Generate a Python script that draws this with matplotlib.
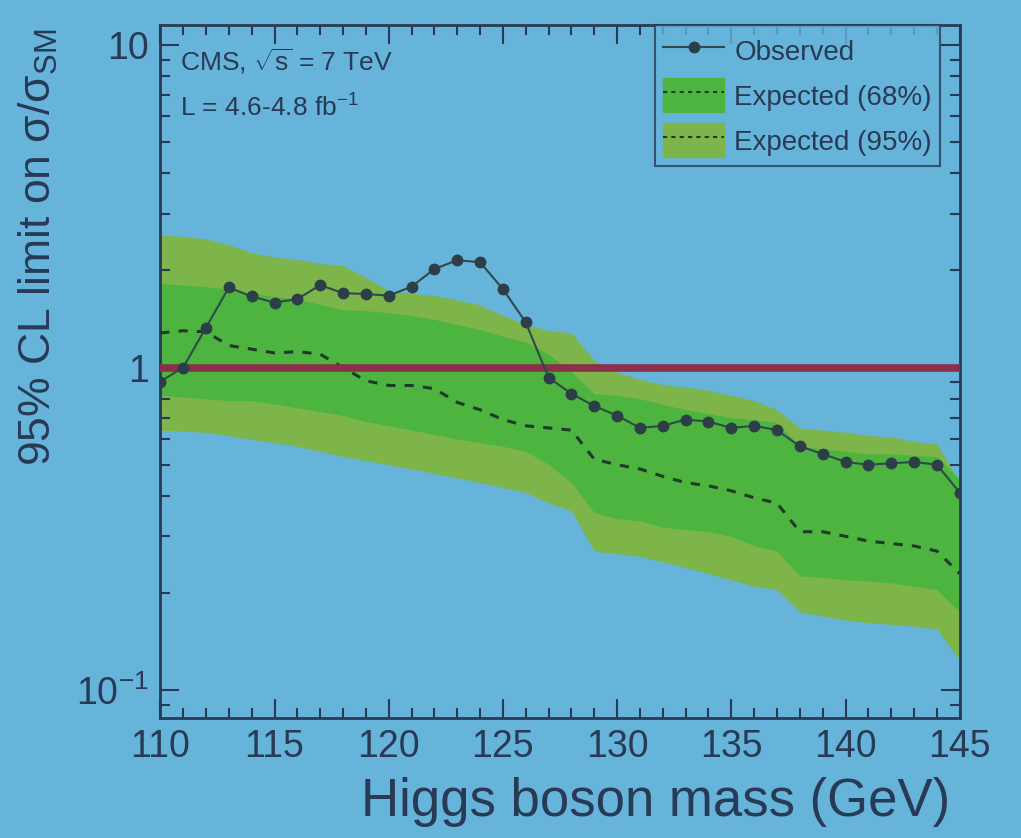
import matplotlib
matplotlib.use("Agg")
import matplotlib.pyplot as plt
from matplotlib.patches import Patch
from matplotlib.lines import Line2D
from matplotlib.ticker import FixedLocator, MultipleLocator, LogLocator, NullFormatter, FixedFormatter
import numpy as np

plt.rcParams['font.family'] = ['Liberation Sans', 'DejaVu Sans']
plt.rcParams['mathtext.fontset'] = 'custom'
plt.rcParams['mathtext.rm'] = 'Liberation Sans'
plt.rcParams['mathtext.it'] = 'Liberation Sans:italic'

mass = list(range(110, 146))
observed = [0.905, 1.00, 1.33, 1.77, 1.66, 1.59, 1.63, 1.80, 1.70, 1.69,
            1.67, 1.78, 2.02, 2.15, 2.12, 1.75, 1.38, 0.93, 0.83, 0.76,
            0.71, 0.65, 0.66, 0.69, 0.68, 0.65, 0.66, 0.64, 0.57, 0.54,
            0.51, 0.50, 0.505, 0.51, 0.50, 0.41]
expected = [1.28, 1.30, 1.29, 1.17, 1.14, 1.11, 1.12, 1.10, 1.00, 0.91,
            0.88, 0.88, 0.86, 0.78, 0.74, 0.69, 0.66, 0.65, 0.64, 0.52,
            0.50, 0.485, 0.46, 0.44, 0.43, 0.415, 0.395, 0.38, 0.31, 0.31,
            0.30, 0.29, 0.285, 0.28, 0.27, 0.23]
up68 = [1.82, 1.80, 1.78, 1.75, 1.70, 1.66, 1.63, 1.57, 1.51, 1.50,
        1.48, 1.45, 1.41, 1.36, 1.31, 1.25, 1.20, 1.10, 0.97, 0.83,
        0.82, 0.80, 0.77, 0.74, 0.72, 0.70, 0.69, 0.675, 0.57, 0.56,
        0.55, 0.54, 0.54, 0.535, 0.53, 0.45]
lo68 = [0.82, 0.81, 0.80, 0.79, 0.79, 0.77, 0.75, 0.73, 0.71, 0.68,
        0.66, 0.64, 0.62, 0.60, 0.585, 0.57, 0.55, 0.50, 0.44, 0.355,
        0.34, 0.335, 0.32, 0.315, 0.31, 0.30, 0.28, 0.27, 0.226, 0.224,
        0.22, 0.218, 0.215, 0.21, 0.205, 0.175]
up95 = [2.57, 2.55, 2.50, 2.40, 2.27, 2.20, 2.16, 2.10, 2.07, 1.90,
        1.73, 1.70, 1.67, 1.62, 1.56, 1.45, 1.36, 1.30, 1.28, 1.05,
        0.965, 0.92, 0.885, 0.87, 0.85, 0.82, 0.79, 0.74, 0.65, 0.64,
        0.63, 0.615, 0.61, 0.59, 0.58, 0.44]
lo95 = [0.64, 0.635, 0.63, 0.615, 0.60, 0.585, 0.57, 0.55, 0.53, 0.515,
        0.50, 0.485, 0.47, 0.455, 0.44, 0.425, 0.41, 0.38, 0.36, 0.27,
        0.265, 0.26, 0.25, 0.24, 0.23, 0.22, 0.21, 0.205, 0.175, 0.17,
        0.165, 0.162, 0.16, 0.158, 0.155, 0.124]

bg = '#66b4d9'
c95 = '#7db54a'
c68 = '#4db53f'
txt = '#283a55'
red = '#8a3048'

fig = plt.figure(figsize=(10.21, 8.38), dpi=100, facecolor=bg)
ax = fig.add_axes([0.157, 0.143, 0.783, 0.827], facecolor=bg)

ax.fill_between(mass, lo95, up95, color=c95, lw=0, zorder=1)
ax.fill_between(mass, lo68, up68, color=c68, lw=0, zorder=2)
ax.plot(mass, expected, ls=(0, (3, 3)), color='#1f3a2a', lw=2.2, zorder=3)
ax.axhline(1.0, color=red, lw=5.5, zorder=4)
ax.plot(mass, observed, color='#2e4a4a', lw=1.5, marker='o', ms=7.5,
        mfc='#2c3e48', mec='#2c3e48', zorder=5)

ax.set_yscale('log')
ax.set_xlim(110, 145)
ax.set_ylim(0.082, 11.5)

ax.xaxis.set_major_locator(MultipleLocator(5))
ax.xaxis.set_minor_locator(MultipleLocator(1))
ax.yaxis.set_major_locator(FixedLocator([0.1, 1, 10]))
ax.yaxis.set_major_formatter(FixedFormatter(['$10^{-1}$', '1', '10']))
ax.yaxis.set_minor_locator(LogLocator(base=10, subs=np.arange(2, 10)))
ax.yaxis.set_minor_formatter(NullFormatter())

ax.tick_params(which='both', direction='in', top=True, right=True,
               colors=txt, labelcolor=txt, width=1.5)
ax.tick_params(which='major', length=14, labelsize=27, pad=8)
ax.tick_params(which='minor', length=7)
for s in ax.spines.values():
    s.set_color(txt)
    s.set_linewidth(2)

ax.set_xlabel('Higgs boson mass (GeV)', fontsize=38, color=txt)
ax.xaxis.set_label_coords(0.62, -0.085)
ax.set_ylabel('95% CL limit on σ/σ$_{\\mathrm{SM}}$', fontsize=32, color=txt)
ax.yaxis.set_label_coords(-0.125, 0.68)

ax.text(0.025, 0.97, r'CMS, $\sqrt{\mathrm{s}}$ = 7 TeV', transform=ax.transAxes,
        fontsize=19, color=txt, va='top', ha='left')
ax.text(0.025, 0.9, r'L = 4.6-4.8 fb$^{-1}$', transform=ax.transAxes,
        fontsize=19, color=txt, va='top', ha='left')

h_obs = Line2D([], [], color='#2e4a4a', lw=1.5, marker='o', ms=7.5,
               mfc='#2c3e48', mec='#2c3e48')
h68 = (Patch(color=c68), Line2D([], [], ls=(0, (2, 2)), color='#1f3a2a', lw=1.5))
h95 = (Patch(color=c95), Line2D([], [], ls=(0, (2, 2)), color='#1f3a2a', lw=1.5))
leg = ax.legend([h_obs, h68, h95], ['Observed', 'Expected (68%)', 'Expected (95%)'],
                loc='upper right', bbox_to_anchor=(0.9755, 1.0), fontsize=20,
                frameon=True, fancybox=False, facecolor=bg, edgecolor=txt,
                labelcolor=txt, handlelength=2.2, handleheight=1.5,
                borderpad=0.3, labelspacing=0.4, handletextpad=0.35,
                borderaxespad=0.0)
leg.get_frame().set_linewidth(1.5)

fig.savefig('out.png', dpi=100, facecolor=bg)
